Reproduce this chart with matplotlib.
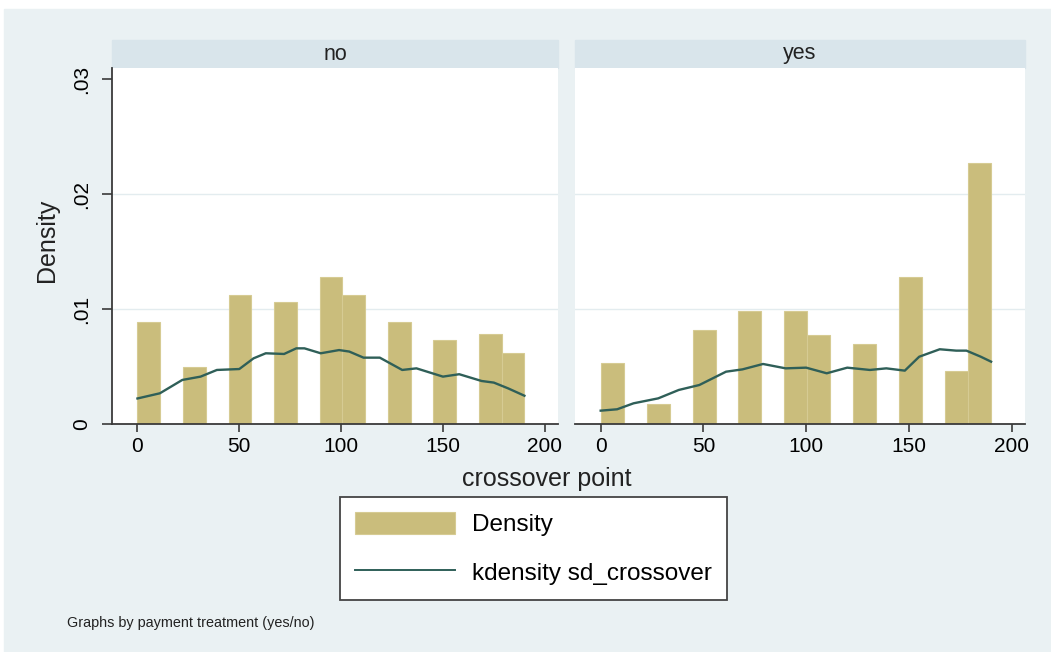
import matplotlib
matplotlib.use("Agg")
import matplotlib.pyplot as plt
import numpy as np
from matplotlib.patches import Rectangle, Patch
from matplotlib.lines import Line2D

plt.rcParams['font.family'] = ['Liberation Sans', 'DejaVu Sans']

# histogram: 17 bins spanning 0..190, density per bin
bin_lo, bin_hi, n_bins = 0, 190, 17
dens_no = [0.0089, 0, 0.0050, 0, 0.0112, 0, 0.0106, 0, 0.0128, 0.0112,
           0, 0.0089, 0, 0.0073, 0, 0.0078, 0.0062]
dens_yes = [0.0053, 0, 0.0017, 0, 0.0082, 0, 0.0098, 0, 0.0098, 0.0077,
            0, 0.0070, 0, 0.0128, 0, 0.0046, 0.0227]

# kernel density curves
kd_x_no = [0, 11, 22, 31, 39, 50, 57, 63, 72, 78, 82, 90, 99, 104, 111,
           119, 130, 137, 150, 158, 169, 175, 182, 190]
kd_y_no = [0.00222, 0.00267, 0.00383, 0.00412, 0.00470, 0.00478, 0.00571,
           0.00615, 0.00609, 0.00658, 0.00658, 0.00615, 0.00643, 0.00630,
           0.00577, 0.00577, 0.00470, 0.00484, 0.00412, 0.00433, 0.00374,
           0.00360, 0.00310, 0.00246]
kd_x_yes = [0, 8, 16, 28, 38, 48, 61, 69, 79, 90, 100, 110, 120, 131, 139,
            148, 155, 165, 173, 178, 185, 190]
kd_y_yes = [0.00116, 0.00128, 0.00180, 0.00223, 0.00296, 0.00339, 0.00455,
            0.00475, 0.00522, 0.00484, 0.00490, 0.00441, 0.00490, 0.00470,
            0.00484, 0.00464, 0.00585, 0.00650, 0.00638, 0.00638, 0.00585,
            0.00542]

panels = ["no", "yes"]
x_ticks = [0, 50, 100, 150, 200]
y_ticks = [0, 0.01, 0.02, 0.03]
y_ticklabels = ["0", ".01", ".02", ".03"]

BG = "#EAF1F3"
STRIP = "#D9E5EB"
BAR = "#CABD7C"
BAR_EDGE = "#D6CB93"
LINE = "#2F5F58"
AXIS = "#3A3A3A"

W, H = 1051, 652
fig = plt.figure(figsize=(W / 100, H / 100), dpi=100, facecolor="white")

# outer graph region
fig.patches.append(Rectangle((4 / W, 0), 1 - 4 / W, 1 - 9 / H,
                             transform=fig.transFigure, color=BG, zorder=-10))


def px_box(left, top, right, bottom):
    return [left / W, 1 - bottom / H, (right - left) / W, (bottom - top) / H]


edges = np.linspace(bin_lo, bin_hi, n_bins + 1)
binw = edges[1] - edges[0]
boxes = [(112, 68, 558, 424), (575, 68, 1025, 424)]
series = [(dens_no, kd_x_no, kd_y_no), (dens_yes, kd_x_yes, kd_y_yes)]

for i, (name, box, (dens, kx, ky)) in enumerate(zip(panels, boxes, series)):
    ax = fig.add_axes(px_box(*box))
    ax.set_facecolor("white")
    ax.bar(edges[:-1], dens, width=binw, align="edge", color=BAR,
           edgecolor=BAR_EDGE, linewidth=0.8, zorder=2)
    ax.plot(kx, ky, color=LINE, lw=1.7, zorder=3)
    for g in (0.01, 0.02):
        ax.axhline(g, color="#E3ECEF", lw=1.0, zorder=1)

    ax.set_xlim(-12.5, 206.5)
    ax.set_ylim(0, 0.03096)
    ax.set_xticks(x_ticks)
    ax.set_xticklabels([str(t) for t in x_ticks])
    ax.tick_params(axis="x", length=6, width=1.2, color=AXIS, pad=3,
                   labelsize=15)
    for s in ("top", "right"):
        ax.spines[s].set_visible(False)
    ax.spines["bottom"].set_color(AXIS)
    ax.spines["bottom"].set_linewidth(1.3)

    if i == 0:
        ax.set_yticks(y_ticks)
        ax.set_yticklabels(y_ticklabels, rotation=90, va="center")
        ax.tick_params(axis="y", length=7, width=1.2, color=AXIS, pad=8,
                       labelsize=15)
        ax.spines["left"].set_color(AXIS)
        ax.spines["left"].set_linewidth(1.3)
    else:
        ax.spines["left"].set_visible(False)
        ax.set_yticks([])

    # panel title strip
    l, t, r, b = box
    fig.patches.append(Rectangle((l / W, 1 - 68 / H), (r - l) / W, 28 / H,
                                 transform=fig.transFigure, color=STRIP,
                                 zorder=-5))
    fig.text((l + r) / 2 / W, 1 - 54 / H, name, ha="center", va="center",
             fontsize=15.5, color="#222222")

fig.text(547 / W, 1 - 479 / H, "crossover point", ha="center", va="center",
         fontsize=18, color="#222222")
fig.text(47 / W, 1 - 240 / H, "Density", ha="center", va="center",
         rotation=90, fontsize=18, color="#222222")

handles = [Patch(facecolor=BAR, edgecolor=BAR_EDGE, lw=0.8),
           Line2D([0], [0], color=LINE, lw=1.4)]
leg = fig.legend(handles, ["Density", "kdensity sd_crossover"],
                 loc="upper left", bbox_to_anchor=(340 / W, 1 - 497 / H),
                 frameon=True, fancybox=False, shadow=False, framealpha=1,
                 fontsize=17.5, handlelength=4.1, handleheight=1.0,
                 handletextpad=0.7, labelspacing=1.0, borderpad=0.62,
                 borderaxespad=0)
leg.get_frame().set_edgecolor("#444444")
leg.get_frame().set_linewidth(1.3)
leg.get_frame().set_facecolor("white")

fig.text(67 / W, 1 - 623 / H, "Graphs by payment treatment (yes/no)",
         ha="left", va="center", fontsize=10.4, color="#222222")

fig.savefig("out.png", dpi=100, facecolor=fig.get_facecolor())
